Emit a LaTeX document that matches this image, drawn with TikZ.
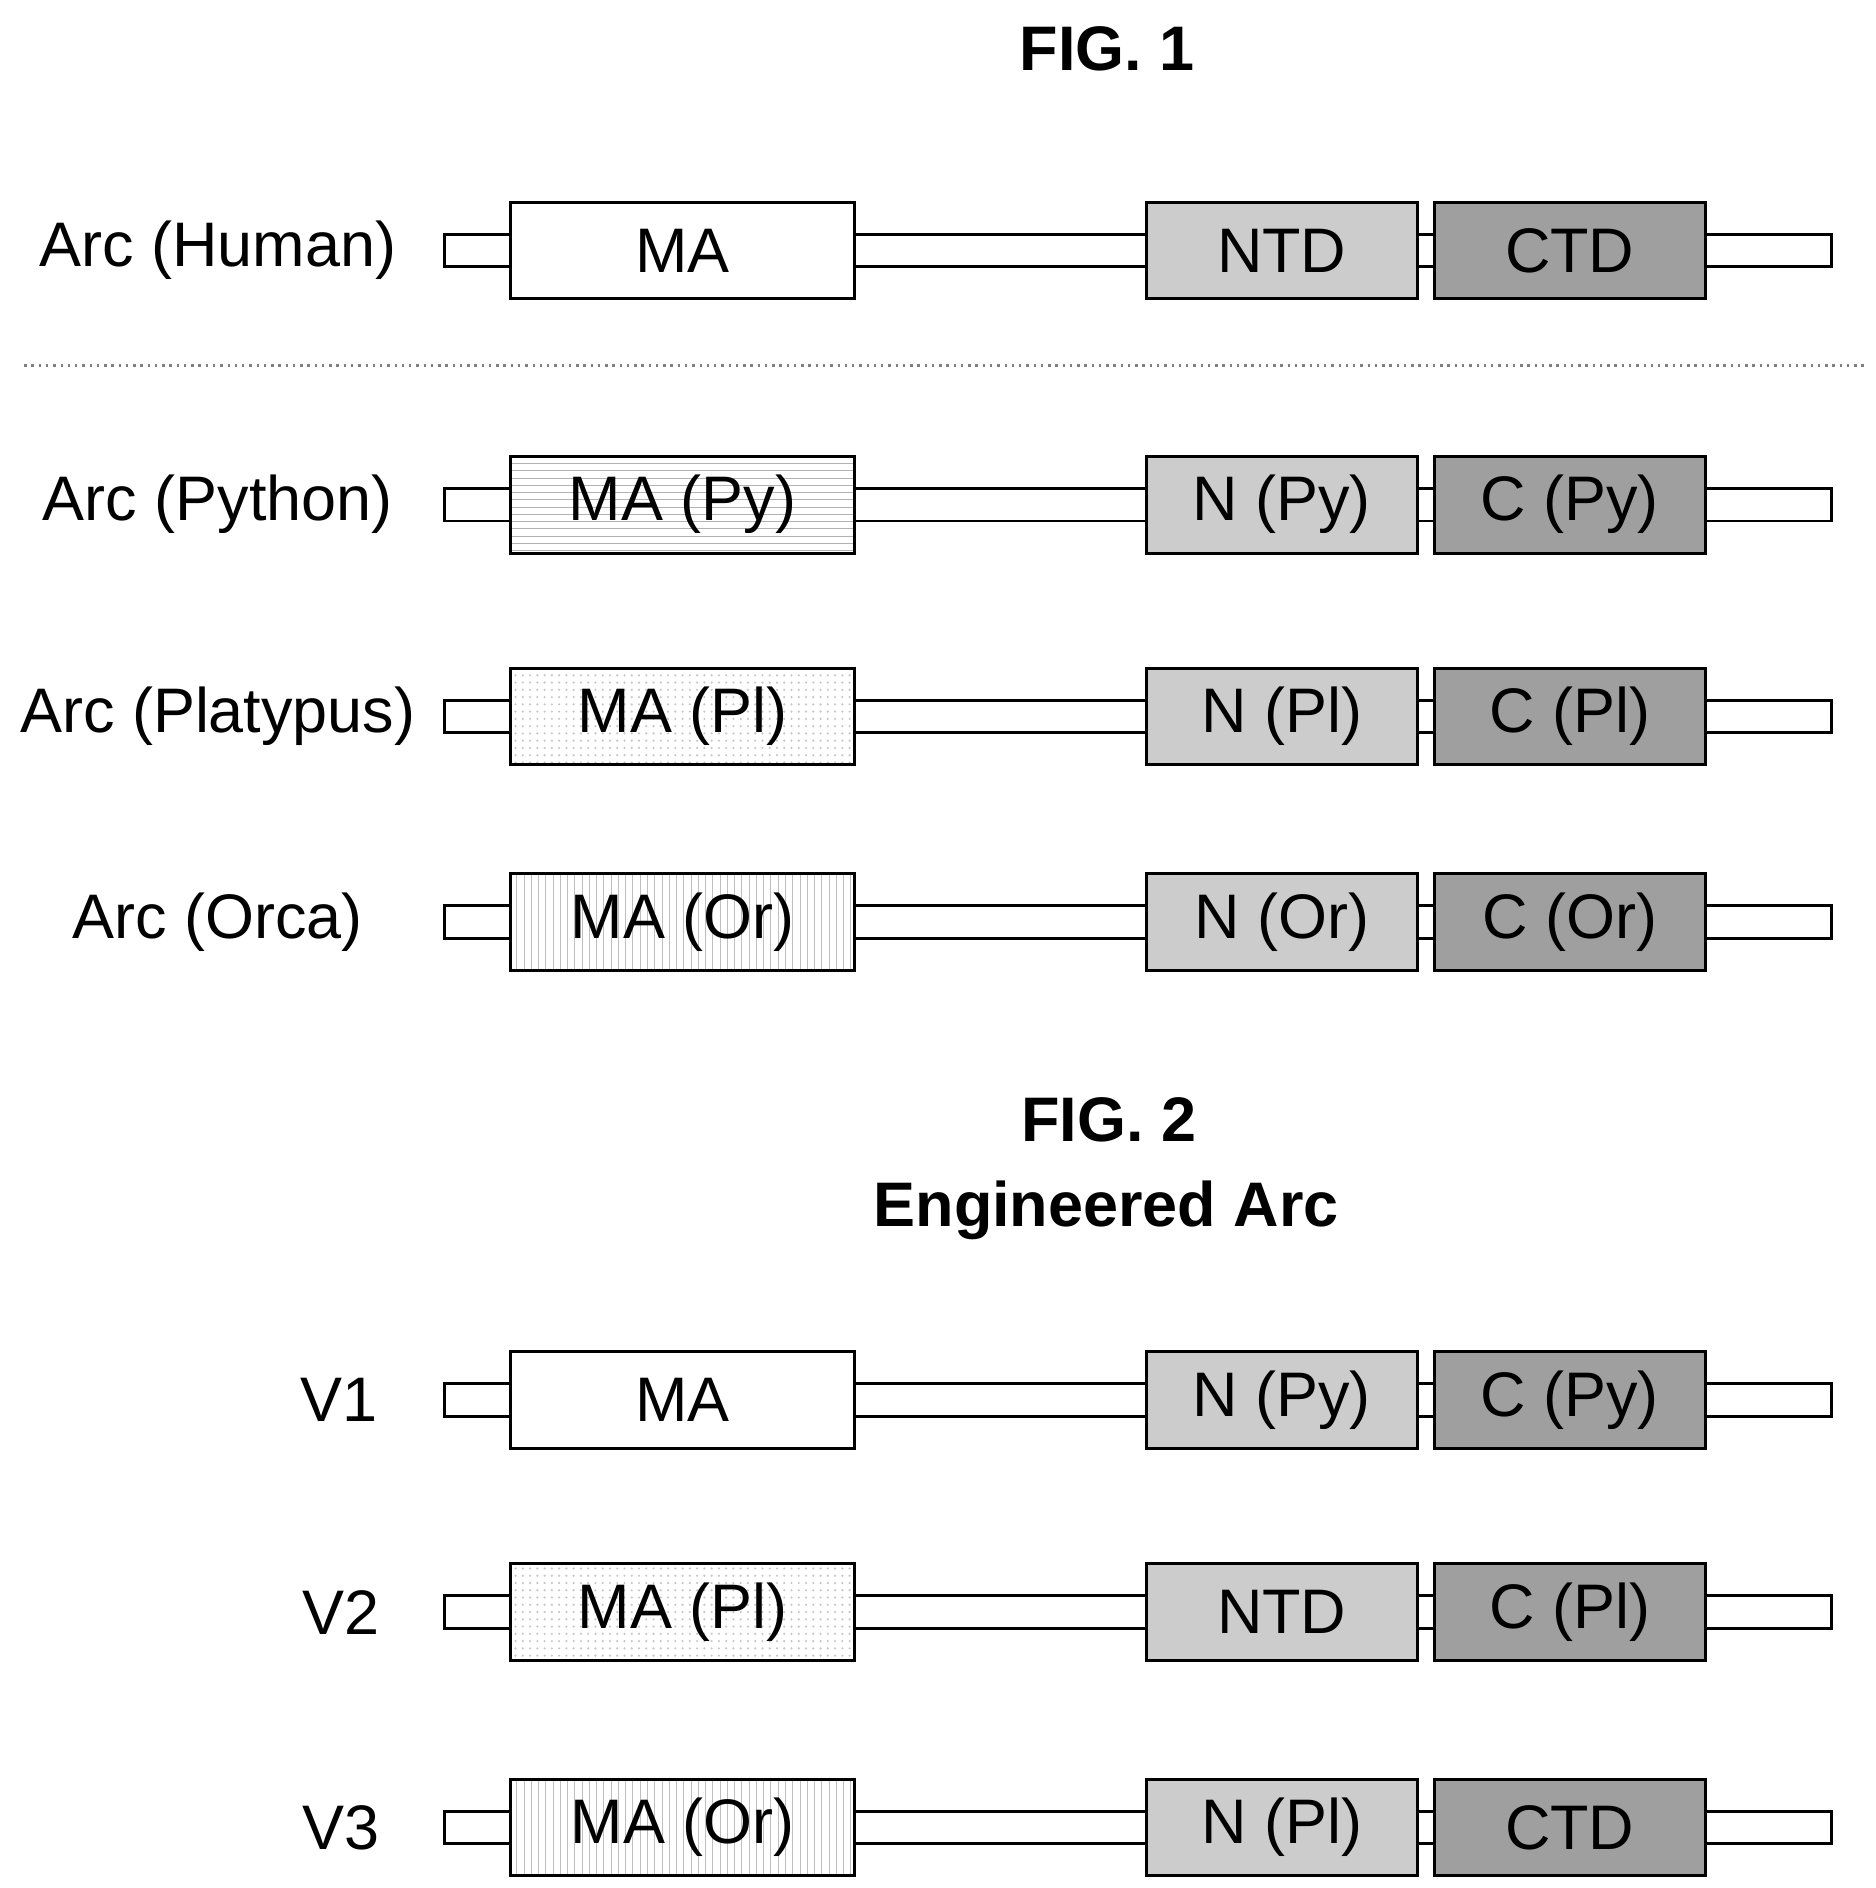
\documentclass[tikz,border=0pt]{standalone}
\usepackage{fontspec}
\setmainfont{Liberation Sans}
\usetikzlibrary{patterns}
\begin{document}
\begin{tikzpicture}[x=0.5pt,y=-0.5pt,
  lbl/.style={font=\fontsize{26}{30}\selectfont},
  ttl/.style={font=\fontsize{26}{30}\selectfont\bfseries},
  bar/.style={draw,line width=1.2pt,fill=white,minimum width=573pt,minimum height=13.5pt,inner sep=0pt},
  dom/.style={draw,line width=1.2pt,minimum height=40pt,inner sep=0pt,font=\fontsize{26}{30}\selectfont},
  ma/.style={dom,minimum width=142pt,fill=white},
  nc/.style={dom,minimum width=112pt},
  human/.style={},
  py/.style={pattern={horizontal lines},pattern color=gray!60},
  pl/.style={pattern={dots},pattern color=gray!45},
  or/.style={pattern={vertical lines},pattern color=gray!50},
  ntd/.style={fill=gray!40},
  ctd/.style={fill=gray!75},
]
\useasboundingbox (0,0) rectangle (1550,1560);
\newcommand\arow[9]{%
  \node[bar] (bar#1) at (940,#1) {};
  \node[lbl] (lab#1) at (#3,#1) {#2};
  \node[ma] (mab#1) at (564,#1) {};
  \node[ma,#4] (ma#1) at (564,#1) {#5};
  \node[nc,#6] (n#1) at (1059,#1) {#7};
  \node[nc,#8] (c#1) at (1297,#1) {#9};
}
\node[ttl] (f1) at (915,40) {FIG. 1};
\arow{207}{Arc (Human)}{180}{human}{MA}{ntd}{NTD}{ctd}{CTD}
\coordinate (dl) at (20,302); \coordinate (dr) at (1540,302);
\draw[gray,dotted,line width=1pt] (dl) -- (dr);
\arow{417}{Arc (Python)}{180}{py}{MA (Py)}{ntd}{N (Py)}{ctd}{C (Py)}
\arow{592}{Arc (Platypus)}{180}{pl}{MA (Pl)}{ntd}{N (Pl)}{ctd}{C (Pl)}
\arow{762}{Arc (Orca)}{180}{or}{MA (Or)}{ntd}{N (Or)}{ctd}{C (Or)}
\node[ttl] (f2) at (916,925) {FIG. 2};
\node[ttl] (ea) at (914,1000) {Engineered Arc};
\arow{1157}{V1}{280}{human}{MA}{ntd}{N (Py)}{ctd}{C (Py)}
\arow{1332}{V2}{282}{pl}{MA (Pl)}{ntd}{NTD}{ctd}{C (Pl)}
\arow{1510}{V3}{282}{or}{MA (Or)}{ntd}{N (Pl)}{ctd}{CTD}
\end{tikzpicture}
\end{document}
